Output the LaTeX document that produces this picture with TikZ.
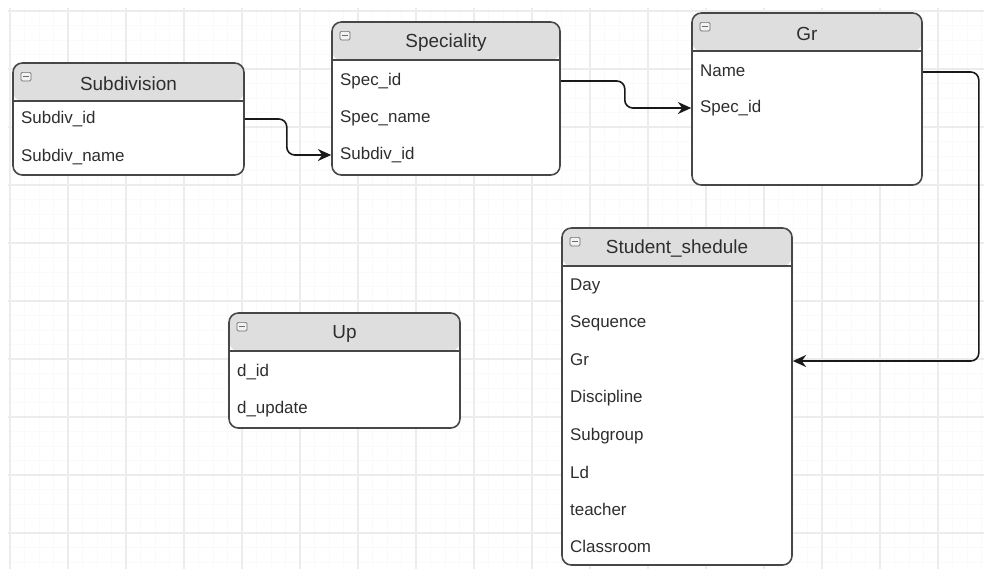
\documentclass[tikz,border=0pt]{standalone}
\usepackage{fontspec}
\setmainfont{Liberation Sans}
\usetikzlibrary{arrows.meta,fit}

\definecolor{edge}{HTML}{474747}
\definecolor{hdr}{HTML}{DEDEDE}
\definecolor{txt}{HTML}{2E2E2E}

\tikzset{
  gridmajor/.style={draw=gray!15, line width=0.9pt},
  gridminor/.style={draw=gray!4, line width=0.5pt},
  tbl/.style={draw=edge, fill=white, line width=1.2pt, rounded corners=7pt, inner sep=0pt,
    path picture={
      \fill[hdr] (path picture bounding box.north west) rectangle ([yshift=-28.5pt]path picture bounding box.north east);
      \draw[edge, line width=1.2pt] ([yshift=-28.5pt]path picture bounding box.north west) -- ([yshift=-28.5pt]path picture bounding box.north east);
      \draw[edge!80, line width=0.5pt, rounded corners=1pt, fill=white!90!gray] ([xshift=6pt,yshift=-7pt]path picture bounding box.north west) rectangle ++(7.5pt,-6.5pt);
      \draw[edge!80, line width=0.6pt] ([xshift=7.5pt,yshift=-10.2pt]path picture bounding box.north west) -- ++(4.5pt,0);
    }},
  title/.style={text=txt, font=\fontsize{14.2}{16}\selectfont, inner sep=0pt},
  field/.style={anchor=west, text=txt, font=\fontsize{12.7}{14}\selectfont, inner sep=0pt, text height=.72em, text depth=0pt},
  link/.style={draw=black!90, line width=1.2pt, rounded corners=6pt, -{Stealth[length=10pt,width=9pt]}},
}

\begin{document}
\begin{tikzpicture}[x=0.75pt,y=-0.75pt]
\useasboundingbox (0,0) rectangle (984,569);
% grid
\foreach \x in {10,24.5,...,984} \draw[gridminor] (\x,8) -- (\x,569);
\foreach \y in {11,25.5,...,569} \draw[gridminor] (8,\y) -- (984,\y);
\foreach \x in {10,68,...,984} \draw[gridmajor] (\x,8) -- (\x,569);
\foreach \y in {11,69,...,569} \draw[gridmajor] (8,\y) -- (984,\y);

% tables
\node[tbl, fit={(13,63) (244,175)}] (subdiv) {};
\node[title] (subdivt) at ([yshift=-16pt]subdiv.north) {Subdivision};
\node[field] (sdid) at ([xshift=6.5pt]subdiv.west |- 0,119) {Subdiv\_id};
\node[field] (sdname) at ([xshift=6.5pt]subdiv.west |- 0,157) {Subdiv\_name};

\node[tbl, fit={(332,22) (560,175)}] (spec) {};
\node[title] (spect) at ([yshift=-16pt]spec.north) {Speciality};
\node[field] (spid) at ([xshift=6.5pt]spec.west |- 0,81) {Spec\_id};
\node[field] (spname) at ([xshift=6.5pt]spec.west |- 0,118) {Spec\_name};
\node[field] (spsd) at ([xshift=6.5pt]spec.west |- 0,155) {Subdiv\_id};

\node[tbl, fit={(692,13) (922,185)}] (gr) {};
\node[title] (grt) at ([yshift=-16pt]gr.north) {Gr};
\node[field] (grname) at ([xshift=6.5pt]gr.west |- 0,72) {Name};
\node[field] (grspec) at ([xshift=6.5pt]gr.west |- 0,108) {Spec\_id};

\node[tbl, fit={(229,313) (460,428)}] (up) {};
\node[title] (upt) at ([yshift=-16pt]up.north) {Up};
\node[field] (did) at ([xshift=6.5pt]up.west |- 0,372) {d\_id};
\node[field] (dupd) at ([xshift=6.5pt]up.west |- 0,409) {d\_update};

\node[tbl, fit={(562,228) (792,565)}] (sched) {};
\node[title] (schedt) at ([yshift=-16pt]sched.north) {Student\_shedule};
\node[field] (sday) at ([xshift=6.5pt]sched.west |- 0,286) {Day};
\node[field] (sseq) at ([xshift=6.5pt]sched.west |- 0,323) {Sequence};
\node[field] (sgr) at ([xshift=6.5pt]sched.west |- 0,361) {Gr};
\node[field] (sdisc) at ([xshift=6.5pt]sched.west |- 0,398) {Discipline};
\node[field] (ssub) at ([xshift=6.5pt]sched.west |- 0,436) {Subgroup};
\node[field] (sld) at ([xshift=6.5pt]sched.west |- 0,474) {Ld};
\node[field] (steach) at ([xshift=6.5pt]sched.west |- 0,511) {teacher};
\node[field] (sroom) at ([xshift=6.5pt]sched.west |- 0,548) {Classroom};

% links
\draw[link] (subdiv.east |- sdid) -- ++(42,0) |- (spec.west |- spsd);
\draw[link] (spec.east |- spid) -- ++(64,0) |- (gr.west |- grspec);
\draw[link] (gr.east |- grname) -- ++(56,0) |- (sched.east |- sgr);
\end{tikzpicture}
\end{document}
